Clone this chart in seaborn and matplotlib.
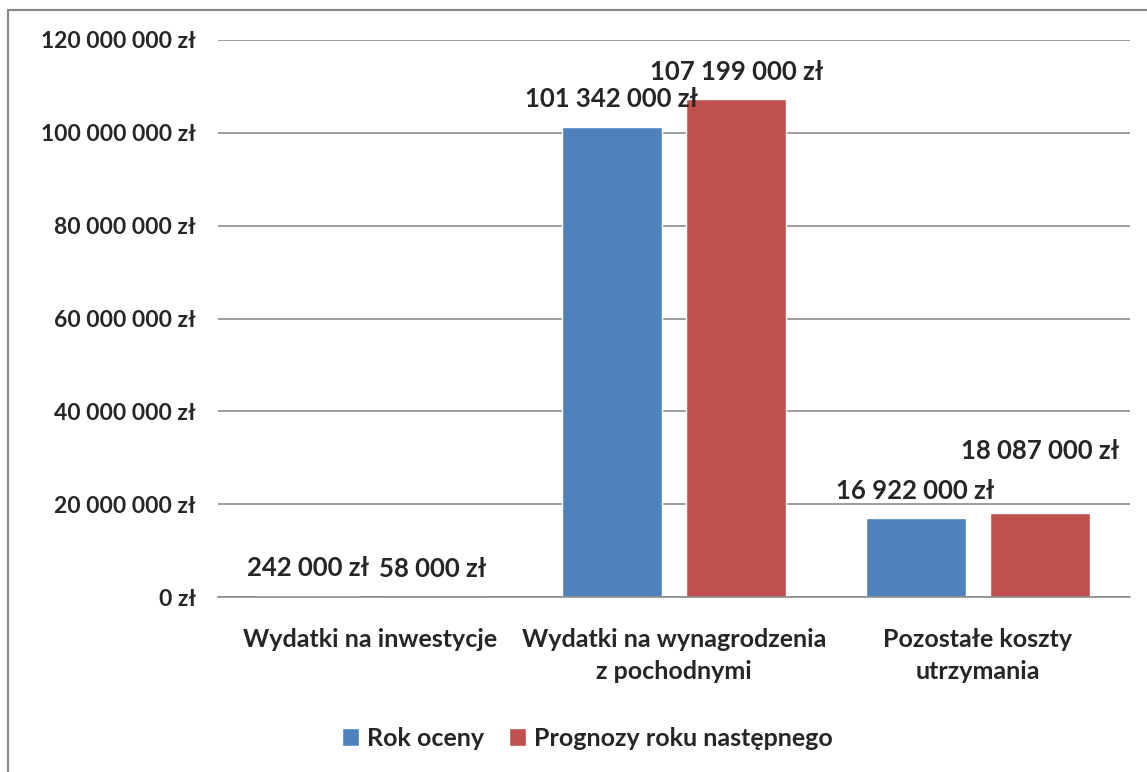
import seaborn as sns
import pandas as pd
import matplotlib.pyplot as plt
from matplotlib.lines import Line2D
from matplotlib.ticker import FuncFormatter

categories = ['Wydatki na inwestycje', 'Wydatki na wynagrodzenia\nz pochodnymi', 'Pozostałe koszty\nutrzymania']
series = ['Rok oceny', 'Prognozy roku następnego']
rok_oceny = [242000, 101342000, 16922000]
prognozy = [58000, 107199000, 18087000]
yticks = [0, 20000000, 40000000, 60000000, 80000000, 100000000, 120000000]

colors = ['#4f81bd', '#c0504d']


def zl(v, pos=None):
	return '{:,.0f} zł'.format(v).replace(',', ' ')


df = pd.DataFrame({
	'kategoria': categories * 2,
	'seria': [series[0]] * 3 + [series[1]] * 3,
	'kwota': rok_oceny + prognozy,
})

sns.set_theme(style="white")
plt.rcParams['font.family'] = ['Lato', 'DejaVu Sans']
plt.rcParams['font.weight'] = 'bold'

fig = plt.figure(figsize=(11.47, 7.72), dpi=100)
ax = fig.add_axes([218 / 1147, 1 - 597 / 772, (1130 - 218) / 1147, (597 - 40) / 772])

sns.barplot(data=df, x='kategoria', y='kwota', hue='seria', palette=colors,
			width=0.82, gap=0.2, saturation=1, ax=ax, legend=True)

ax.set_ylim(0, 120000000)
ax.set_yticks(yticks)
ax.yaxis.set_major_formatter(FuncFormatter(zl))
ax.yaxis.grid(True, color='#8c8c8c', linewidth=1.2)
ax.set_axisbelow(True)
for s in ['left', 'right', 'top']:
	ax.spines[s].set_visible(False)
ax.spines['bottom'].set_color('#8c8c8c')
ax.spines['bottom'].set_linewidth(1.2)
ax.tick_params(axis='y', length=0, pad=16, labelsize=16.5)
ax.tick_params(axis='x', length=0, pad=22, labelsize=18)
for t in ax.get_xticklabels() + ax.get_yticklabels():
	t.set_fontweight('bold')
for t in ax.get_xticklabels():
	t.set_linespacing(1.5)
ax.set_xlabel('')
ax.set_ylabel('')

# data labels (extra lift for the last red one, as in the original)
lifts = [[20, 20, 20], [20, 20, 45]]
for i, cont in enumerate(ax.containers):
	for j, bar in enumerate(cont):
		h = bar.get_height()
		ax.annotate(zl(h), (bar.get_x() + bar.get_width() / 2, h),
					xytext=(0, lifts[i][j]), textcoords='offset points',
					ha='center', va='center', fontsize=18.5, fontweight='bold')

leg = ax.legend(loc='center', bbox_to_anchor=(587 / 1147, 1 - 738 / 772),
				bbox_transform=fig.transFigure, ncol=2, frameon=False,
				handlelength=0.7, handleheight=0.7, handletextpad=0.3,
				columnspacing=1.0, prop={'size': 18, 'weight': 'bold'})

fig.add_artist(Line2D([8 / 1147, 1], [1 - 10 / 772, 1 - 10 / 772], color='#868686', linewidth=1.5))
fig.add_artist(Line2D([8 / 1147, 8 / 1147], [0, 1 - 10 / 772], color='#868686', linewidth=1.5))

fig.savefig('out.png', dpi=100)
